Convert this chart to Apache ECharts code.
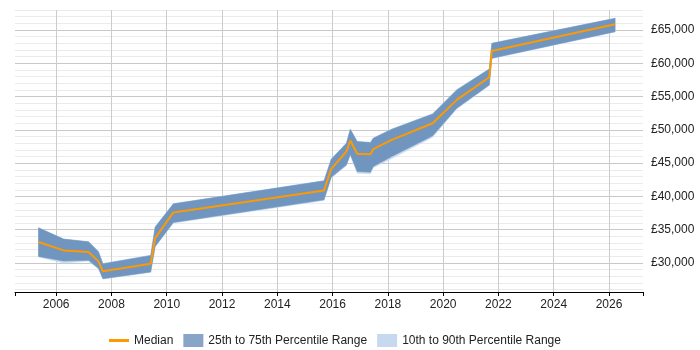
<!DOCTYPE html>
<html>
<head>
<meta charset="utf-8">
<script src="https://cdn.jsdelivr.net/npm/echarts@6/dist/echarts.min.js"></script>
<style>
  html, body { margin: 0; padding: 0; background: #fff; }
  #chart { width: 700px; height: 350px; }
</style>
</head>
<body>
<div id="chart"></div>
<script>
// decimal years
const years  = [2005.36, 2006.27, 2007.17, 2007.53, 2007.69, 2009.42, 2009.58, 2010.24, 2015.69, 2015.95, 2016.5, 2016.64, 2016.89, 2017.37, 2017.47, 2018.14, 2019.62, 2020.49, 2021.67, 2021.76, 2026.22];
const p10    = [30900, 30000, 30300, 29100, 27600, 28600, 32400, 36000, 39400, 42800, 44600, 46200, 43500, 43400, 44300, 45700, 48900, 53150, 56650, 60700, 64700];
const p25    = [31000, 30300, 30400, 29200, 27650, 28650, 32500, 36100, 39500, 42900, 44750, 46300, 43750, 43650, 44500, 46000, 49100, 53250, 56750, 60750, 64750];
const median = [33150, 31900, 31650, 30250, 28750, 29900, 33750, 37600, 40900, 44150, 46750, 48400, 46400, 46350, 47100, 48500, 51000, 54500, 57900, 61850, 65850];
const p75    = [35300, 33600, 33200, 31700, 29900, 31150, 35400, 38900, 42350, 45600, 48000, 50100, 48250, 48100, 48750, 50100, 52400, 56000, 59150, 63000, 66750];
const p90    = [35300, 33600, 33200, 31700, 29900, 31150, 35400, 38900, 42350, 45600, 48000, 50100, 48250, 48100, 48750, 50100, 52400, 56000, 59150, 63000, 66750];

const FONT = 'Liberation Sans, Arial, sans-serif';

const chart = echarts.init(document.getElementById('chart'));

// one polygon per band, corners mapped through the axes
function bandSeries(name, lo, hi, fill, swatch) {
  return {
    name: name,
    type: 'custom',
    clip: true,
    itemStyle: { color: swatch },
    data: years.map((y, i) => [y, lo[i], hi[i]]),
    encode: { x: 0, y: [1, 2] },
    renderItem: (params, api) => {
      if (params.dataIndex !== 0) return null;
      const top = years.map((y, i) => api.coord([y, hi[i]]));
      const bottom = years.map((y, i) => api.coord([y, lo[i]])).reverse();
      return {
        type: 'polygon',
        shape: { points: top.concat(bottom) },
        style: { fill: fill, stroke: fill, lineWidth: 0.5 }
      };
    }
  };
}

chart.setOption({
  animation: false,
  grid: { left: 15, right: 57, top: 10, bottom: 58, containLabel: false },
  legend: {
    left: 104,
    top: 329,
    itemWidth: 20,
    itemHeight: 13,
    itemGap: 10,
    textStyle: { fontFamily: FONT, fontSize: 12, color: '#222' },
    data: [
      { name: 'Median', icon: 'path://M0,0 M20,13 M0,5 L20,5 L20,8 L0,8 Z' },
      { name: '25th to 75th Percentile Range', icon: 'rect' },
      { name: '10th to 90th Percentile Range', icon: 'rect' }
    ]
  },
  xAxis: {
    type: 'value',
    min: 2004.51,
    max: 2027.23,
    minInterval: 2,
    maxInterval: 2,
    axisLine: { lineStyle: { color: '#000', width: 1 } },
    axisTick: { show: true, length: 4, lineStyle: { color: '#000' } },
    axisLabel: {
      fontFamily: FONT, fontSize: 12, color: '#222', margin: 7,
      formatter: (v) => (Number.isInteger(v) ? String(v) : '')
    },
    splitLine: { show: true, showMinLine: false, showMaxLine: false, lineStyle: { color: '#ccc' } }
  },
  yAxis: {
    type: 'value',
    position: 'right',
    min: 25650,
    max: 68000,
    minInterval: 1000,
    maxInterval: 1000,
    axisLine: { show: false },
    axisTick: { show: false },
    axisLabel: {
      fontFamily: FONT, fontSize: 12, color: '#222', margin: 8,
      formatter: (v) => (v % 5000 === 0 ? '£' + v.toLocaleString('en-GB') : '')
    },
    splitLine: {
      show: true,
      showMinLine: false,
      lineStyle: { color: ['#ebebeb', '#ebebeb', '#ebebeb', '#ebebeb', '#c8c8c8'] }
    }
  },
  series: [
    bandSeries('10th to 90th Percentile Range', p10, p90, '#c6d9ee', '#c6d9ee'),
    bandSeries('25th to 75th Percentile Range', p25, p75, '#7096c0', '#88a5c8'),
    {
      name: 'Median',
      type: 'line',
      symbol: 'none',
      data: years.map((y, i) => [y, median[i]]),
      itemStyle: { color: '#ff9900' },
      lineStyle: { color: '#ff9900', width: 2 }
    }
  ]
});
</script>
</body>
</html>
